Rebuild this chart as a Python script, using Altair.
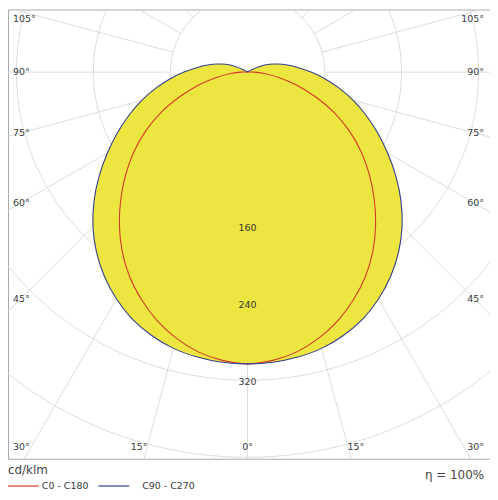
import math
import altair as alt
import pandas as pd

# ---------------- data (cd/klm) ----------------
angles = list(range(0, 185, 5))  # gamma angle, 0 = straight down
c0_c180 = [303, 300.5, 295, 286, 274.5, 260.5, 245, 227, 207, 186,
           165, 144, 122, 99, 75, 53.5, 33.5, 17.5, 7, 1.5,
           0, 0, 0, 0, 0, 0, 0, 0, 0, 0,
           0, 0, 0, 0, 0, 0, 0]
c90_c270 = [303, 302.5, 300.5, 297, 291, 283, 272, 259, 244, 227,
            208, 188, 168, 149, 131, 114, 97, 81, 66, 53,
            42, 32.5, 24, 14, 5, 1, 0, 0, 0, 0,
            0, 0, 0, 0, 0, 0, 0]
series_names = ["C0 - C180", "C90 - C270"]
series_colors = ["#D23A2C", "#34408C"]
ring_values = [80, 160, 240, 320, 400]
ring_label_values = [160, 240, 320]
spoke_angles = list(range(0, 180, 15))
side_label_angles = [105, 90, 75, 60, 45, 30]
bottom_label_angles = [15, 0]
unit_text = "cd/klm"
eta_text = "η = 100%"

# ---------------- geometry ----------------
PX = 0.969            # pixels per cd/klm
W, H = 485, 452       # frame (view) size in px
OX, OY = 241, 63      # origin of the polar diagram inside the view (px)
x_dom = [-OX / PX, (W - OX) / PX]
y_dom = [-(H - OY) / PX, OY / PX]
FONT = "DejaVu Sans"
TXT = "#3a3a3a"
GRID = "#dcdcdc"


def pol(r, deg):
    t = math.radians(deg)
    return r * math.sin(t), -r * math.cos(t)


# curves (both halves, symmetric)
rows = []
for name, vals in zip(series_names, [c0_c180, c90_c270]):
    pts = [(-a, v) for a, v in reversed(list(zip(angles, vals)))] + \
          [(a, v) for a, v in zip(angles[1:], vals[1:])]
    for i, (a, v) in enumerate(pts):
        x, y = pol(v, a)
        rows.append({"series": name, "i": i, "x": x, "y": y})
curves = pd.DataFrame(rows)
blue = curves[curves.series == series_names[1]]

# rings
ring_rows = []
for r in ring_values:
    for i, a in enumerate(range(0, 362, 2)):
        x, y = pol(r, a)
        ring_rows.append({"ring": r, "i": i, "x": x, "y": y})
rings = pd.DataFrame(ring_rows)

# spokes from the first ring to the frame
spoke_rows = []
for a in spoke_angles:
    for s in ([1] if a == 0 else [-1, 1]):
        dx, dy = pol(1, s * a)
        ts = []
        if dx > 1e-9:
            ts.append(x_dom[1] / dx)
        if dx < -1e-9:
            ts.append(x_dom[0] / dx)
        if dy > 1e-9:
            ts.append(y_dom[1] / dy)
        if dy < -1e-9:
            ts.append(y_dom[0] / dy)
        t_end = min(ts)
        r0 = ring_values[0]
        if t_end > r0:
            spoke_rows.append({"x": dx * r0, "y": dy * r0, "x2": dx * t_end, "y2": dy * t_end})
spokes = pd.DataFrame(spoke_rows)

# ring labels
ring_lab = pd.DataFrame({"x": [0.0] * len(ring_label_values),
                         "y": [-v for v in ring_label_values],
                         "t": [str(v) for v in ring_label_values]})

# angle labels
lab_rows = []
side_px = 228
bottom_px = 377
for a in side_label_angles:
    if a == 30:
        ypx = bottom_px
    else:
        ypx = side_px / math.tan(math.radians(a)) if a != 90 else 0
    ypx = max(ypx, -(OY - 10))
    lab_rows.append({"side": "left", "t": f"{a}°", "ypx": OY + ypx})
    lab_rows.append({"side": "right", "t": f"{a}°", "ypx": OY + ypx})
labs = pd.DataFrame(lab_rows)
labs["y"] = (OY - labs["ypx"]) / PX
labs["x"] = [(-OX + 5) / PX if s == "left" else (W - OX - 6) / PX for s in labs["side"]]

bot_rows = []
for a in bottom_label_angles:
    xpx = bottom_px * math.tan(math.radians(a)) + (8 if a else 0)
    for s in ([1] if a == 0 else [-1, 1]):
        bot_rows.append({"x": s * xpx / PX, "y": (OY - (OY + bottom_px)) / PX, "t": f"{a}°"})
bots = pd.DataFrame(bot_rows)

xs = alt.Scale(domain=x_dom, nice=False, zero=False)
ys = alt.Scale(domain=y_dom, nice=False, zero=False)
X = lambda f: alt.X(f, type="quantitative", scale=xs, axis=None)
Y = lambda f: alt.Y(f, type="quantitative", scale=ys, axis=None)

ring_layer = alt.Chart(rings).mark_line(color=GRID, strokeWidth=1, clip=True).encode(
    x=X("x"), y=Y("y"), detail="ring:N", order="i:Q")
spoke_layer = alt.Chart(spokes).mark_rule(color=GRID, strokeWidth=1, clip=True).encode(
    x=X("x"), y=Y("y"), x2="x2", y2="y2")
fill_layer = alt.Chart(blue).mark_line(fill="#EBE32B", fillOpacity=0.9, stroke="transparent",
                                       strokeWidth=0, clip=True, interpolate="catmull-rom").encode(
    x=X("x"), y=Y("y"), order="i:Q")
line_layer = alt.Chart(curves).mark_line(strokeWidth=1.1, clip=True, interpolate="catmull-rom").encode(
    x=X("x"), y=Y("y"), order="i:Q",
    color=alt.Color("series:N", scale=alt.Scale(domain=series_names, range=series_colors), legend=None))
ring_text = alt.Chart(ring_lab).mark_text(font=FONT, fontSize=9.5, color=TXT, dy=2).encode(
    x=X("x"), y=Y("y"), text="t:N")
left_text = alt.Chart(labs[labs.side == "left"]).mark_text(font=FONT, fontSize=9.5, color=TXT,
                                                          align="left").encode(
    x=X("x"), y=Y("y"), text="t:N")
right_text = alt.Chart(labs[labs.side == "right"]).mark_text(font=FONT, fontSize=9.5, color=TXT,
                                                            align="right").encode(
    x=X("x"), y=Y("y"), text="t:N")
bot_text = alt.Chart(bots).mark_text(font=FONT, fontSize=9.5, color=TXT).encode(
    x=X("x"), y=Y("y"), text="t:N")

one = pd.DataFrame({"k": [0]})
unit_layer = alt.Chart(one).mark_text(text=unit_text, font=FONT, fontSize=12, color="#444",
                                      align="left", baseline="middle").encode(
    x=alt.value(0), y=alt.value(463))
eta_layer = alt.Chart(one).mark_text(text=eta_text, font=FONT, fontSize=12, color="#444",
                                     align="right", baseline="middle").encode(
    x=alt.value(479), y=alt.value(468))
leg_layers = []
for k, (name, col) in enumerate(zip(series_names, series_colors)):
    x0 = 0 + k * 91
    leg_layers.append(alt.Chart(one).mark_rule(stroke=col, color=col, strokeWidth=1.2).encode(
        x=alt.value(x0), x2=alt.value(x0 + 31), y=alt.value(479.5)))
    leg_layers.append(alt.Chart(one).mark_text(text=name, font=FONT, fontSize=9.5, color=TXT,
                                               align="left", baseline="middle").encode(
        x=alt.value(x0 + 34 + k * 10), y=alt.value(479)))

chart = alt.layer(
    ring_layer, spoke_layer, fill_layer, line_layer, ring_text, left_text, right_text, bot_text,
    unit_layer, eta_layer, *leg_layers
).properties(
    width=W, height=H,
    padding={"left": 0, "top": 0, "right": 0, "bottom": 32},
    autosize=alt.AutoSizeParams(type="none"),
).configure_view(stroke="#a8a8a8", strokeWidth=1)

chart.save("out.html", embed_options={"renderer": "svg", "actions": False})
